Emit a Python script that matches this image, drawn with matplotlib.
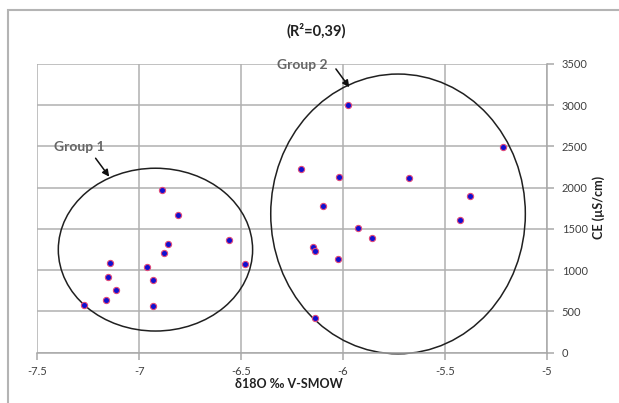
import matplotlib.pyplot as plt
from matplotlib.patches import Ellipse, Rectangle

# delta 18O vs CE
group1_x = [-6.889, -6.809, -6.559, -6.860, -6.880, -7.142, -6.961, -6.479,
            -7.151, -6.931, -7.112, -7.161, -7.272, -6.931]
group1_y = [1972, 1669, 1369, 1317, 1204, 1086, 1041, 1078,
            913, 883, 755, 633, 573, 564]
group2_x = [-5.976, -5.212, -6.207, -6.017, -5.675, -5.374, -6.096, -5.423,
            -5.926, -5.855, -6.147, -6.137, -6.025, -6.137]
group2_y = [3000, 2490, 2227, 2134, 2122, 1899, 1782, 1612,
            1511, 1393, 1280, 1232, 1131, 415]

x_ticks = [-7.5, -7, -6.5, -6, -5.5, -5]
y_ticks = [0, 500, 1000, 1500, 2000, 2500, 3000, 3500]

plt.rcParams['font.family'] = ['Lato', 'DejaVu Sans']

fig = plt.figure(figsize=(6.19, 4.03), dpi=100)
ax = fig.add_axes([0.0603, 0.1253, 0.8226, 0.7159])

# outer chart frame
fig.add_artist(Rectangle((0.0129, -0.2), 1.2, 1.175, fill=False,
                         edgecolor='#b4b4b4', linewidth=1.5,
                         transform=fig.transFigure))

ax.scatter(group1_x + group2_x, group1_y + group2_y, s=20,
           facecolor='#1010d0', edgecolor='#e04a7a', linewidth=0.8, zorder=3)

# group ellipses
ax.add_patch(Ellipse((-6.920, 1248), 0.954, 1975, fill=False,
                     edgecolor='#202020', linewidth=1.1, clip_on=False, zorder=2))
ax.add_patch(Ellipse((-5.729, 1681), 1.250, 3394, fill=False,
                     edgecolor='#202020', linewidth=1.1, clip_on=False, zorder=2))

ax.text(-7.295, 2494, 'Group 1', fontsize=10, fontweight='bold',
        color='#666666', ha='center', va='center')
ax.annotate('', xy=(-7.147, 2133), xytext=(-7.214, 2357),
            arrowprops=dict(arrowstyle='-|>', color='#101010', lw=1.1,
                            mutation_scale=10, shrinkA=0, shrinkB=0))
ax.text(-6.200, 3489, 'Group 2', fontsize=10, fontweight='bold',
        color='#666666', ha='center', va='center')
ax.annotate('', xy=(-5.968, 3218), xytext=(-6.034, 3440),
            arrowprops=dict(arrowstyle='-|>', color='#101010', lw=1.1,
                            mutation_scale=10, shrinkA=0, shrinkB=0),
            annotation_clip=False)

ax.set_xlim(-7.5, -5)
ax.set_ylim(0, 3500)
ax.set_xticks(x_ticks)
ax.set_xticklabels(['%g' % t for t in x_ticks])
ax.set_yticks(y_ticks)
ax.yaxis.tick_right()
ax.grid(True, color='#b0b0b0', linewidth=1.1)
ax.set_axisbelow(True)
for side in ['top', 'left']:
    ax.spines[side].set_visible(False)
for side in ['bottom', 'right']:
    ax.spines[side].set_color('#a8a8a8')
    ax.spines[side].set_linewidth(1.1)
ax.tick_params(axis='both', direction='out', length=5, width=1.1,
               color='#a8a8a8', labelsize=8, labelcolor='#404040')
ax.tick_params(axis='y', pad=6)
ax.tick_params(axis='x', pad=5)

fig.text(316 / 619, 1 - 31 / 403, '(R\u00b2=0,39)', fontsize=10.5,
         fontweight='bold', ha='center', va='center', color='#202020')
fig.text(289 / 619, 1 - 384 / 403, '\u03b418O \u2030 V-SMOW', fontsize=9,
         fontweight='bold', ha='center', va='center', color='#202020')
fig.text(599 / 619, 1 - 207 / 403, 'CE (\u00b5S/cm)', fontsize=9,
         fontweight='bold', ha='center', va='center', rotation=90,
         color='#202020')

plt.savefig('out.png', dpi=100)
